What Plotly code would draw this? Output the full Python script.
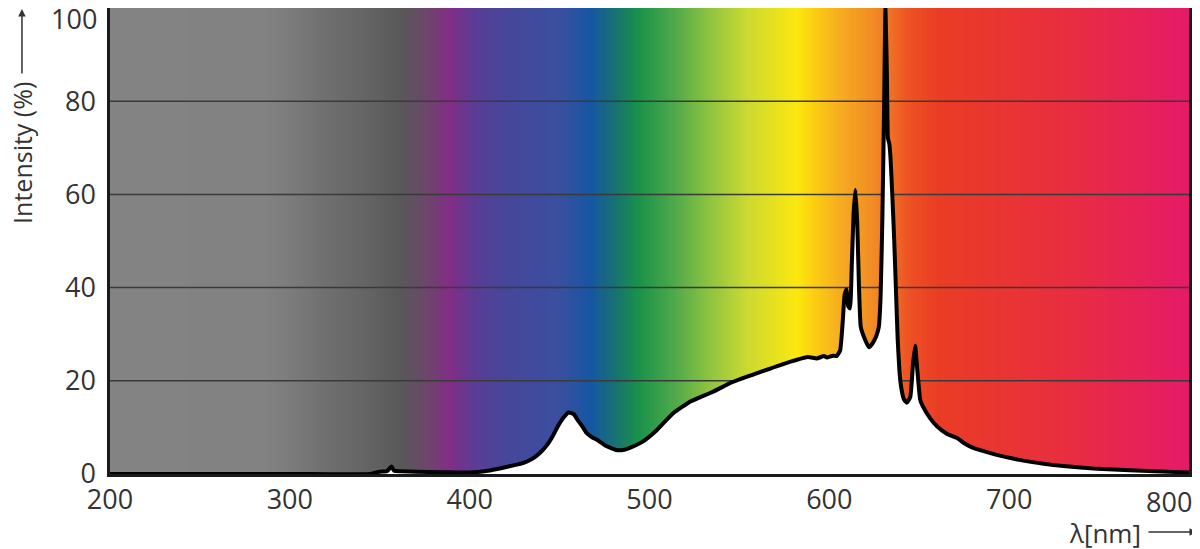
import plotly.graph_objects as go

# spectrum (nm) and relative intensity (%)
wavelength = [200, 300, 345, 350, 354, 356.5, 358, 362, 370, 385, 400, 410, 418,
              425, 430, 435, 439, 443, 446, 449, 452, 455, 458, 460, 463, 465,
              468, 471, 476, 482, 486, 489, 496, 504, 513, 523, 535, 546, 561,
              576, 588, 593, 597, 599, 602, 604, 606, 607.5, 608.5, 609.5, 610.5,
              611.5, 612.5, 613.5, 614.5, 615.5, 616.5, 617.5, 620, 622, 624, 626,
              627.5, 628.5, 629.5, 630.5, 631.2, 632, 632.6, 633.3, 634, 635, 636,
              637, 638, 639, 640, 641.5, 643, 645, 646.5, 647.7, 649, 650.5, 652,
              656, 660, 665.5, 671, 675, 680, 693, 712, 730, 749, 767, 795, 800]
intensity = [0, 0, 0, 0.5, 0.6, 1.6, 0.7, 0.6, 0.5, 0.4, 0.3, 0.7, 1.3,
             1.9, 2.4, 3.3, 4.5, 6.2, 8, 10.2, 12, 13.2, 12.8, 11.6, 10, 8.8,
             7.9, 7.3, 6, 5.1, 5.2, 5.6, 6.9, 9.4, 13, 15.6, 17.6, 19.7, 21.8,
             23.8, 25.1, 24.8, 25.3, 25, 25.4, 25.3, 26.5, 33, 38.5, 39.6, 36,
             35.5, 45, 56, 61, 54, 40, 31.5, 28.7, 27.2, 28, 29.5, 31.5, 38, 55,
             80, 100, 86, 72, 71, 68, 60, 51, 40, 29, 22, 18.5, 16, 15.3, 16.5,
             23.5, 27.5, 22, 16, 14.5, 12, 10.2, 8.6, 7.7, 6.6, 5.6, 4.1, 2.6,
             1.7, 1.1, 0.8, 0.4, 0.3]

# background colour stops along the wavelength axis
stop_nm = [200, 285, 300, 320, 345, 362, 375, 389, 402, 420, 450, 467, 481,
           494, 514, 534, 554, 582, 590, 606, 625, 645, 661, 733, 800]
stop_color = ["#838383", "#828282", "#7b7c7b", "#6f6f6f", "#626362", "#585858",
              "#6a4868", "#822d86", "#5c3b95", "#47469a", "#3a4f9f", "#1656a3",
              "#187271", "#1a924a", "#4fa94a", "#90c440", "#cbd932", "#fce80f",
              "#fbd20f", "#f6ac20", "#f18a25", "#ed5023", "#ea3c25", "#e82d40",
              "#e61a68"]

x_ticks = [200, 300, 400, 500, 600, 700, 800]
y_ticks = [0, 20, 40, 60, 80, 100]

x_min, x_max = 200, 800
y_min, y_max = 0, 100

FONT = "Open Sans"
TEXT = "#333333"
SIZE = 27

colorscale = [[(nm - x_min) / (x_max - x_min), c] for nm, c in zip(stop_nm, stop_color)]
bg_x = list(range(x_min, x_max + 1))

fig = go.Figure()

# spectrum colour band behind everything
fig.add_trace(go.Heatmap(
    x=bg_x, y=[y_min, y_max], z=[bg_x, bg_x],
    zmin=x_min, zmax=x_max, colorscale=colorscale,
    showscale=False, hoverinfo="skip",
))

# grid lines sit on the colour band but under the white fill
grid_x, grid_y = [], []
for v in y_ticks[1:-1]:
    grid_x += [x_min, x_max, None]
    grid_y += [v, v, None]
fig.add_trace(go.Scatter(
    x=grid_x, y=grid_y, mode="lines",
    line=dict(color="#3a3a3a", width=1.5), hoverinfo="skip",
))

fig.add_trace(go.Scatter(
    x=wavelength, y=intensity, mode="lines",
    fill="tozeroy", fillcolor="white",
    line=dict(color="black", width=4, shape="spline", smoothing=0.4),
))

# page body adds an 8px offset, so the figure is sized to what stays visible
fig.update_layout(
    width=1192, height=541,
    margin=dict(l=102, r=11, t=0, b=75),
    paper_bgcolor="white", plot_bgcolor="white",
    showlegend=False,
    font=dict(family=FONT, size=SIZE, color=TEXT),
)
fig.update_xaxes(
    range=[x_min, x_max], tickvals=x_ticks[:-1],
    showgrid=False, zeroline=False, automargin=False,
    showline=True, linecolor="#1a1a1a", linewidth=2.5, mirror=True,
    ticks="", ticklabelstandoff=0,
)
fig.update_yaxes(
    range=[y_min, y_max], tickvals=y_ticks[:-1],
    showgrid=False, zeroline=False, automargin=False,
    showline=True, linecolor="#1a1a1a", linewidth=2.5, mirror=True,
    ticks="", ticklabelstandoff=6,
)

# edge tick labels are pulled inside the canvas
fig.add_annotation(x=x_ticks[-1], y=0, xref="x", yref="paper",
                   text=str(x_ticks[-1]), showarrow=False, borderpad=0,
                   xanchor="right", yanchor="middle", xshift=4, yshift=-27,
                   font=dict(family=FONT, size=SIZE, color=TEXT))
fig.add_annotation(x=0, y=y_ticks[-1], xref="paper", yref="y",
                   text=str(y_ticks[-1]), showarrow=False, borderpad=0,
                   xanchor="right", yanchor="middle", xshift=-12, yshift=-10,
                   font=dict(family=FONT, size=SIZE, color=TEXT))

# axis titles with arrows
fig.add_annotation(x=0.888, y=-0.127, xref="paper", yref="paper",
                   text="λ[nm]", showarrow=False, borderpad=0,
                   xanchor="left", yanchor="middle",
                   font=dict(family=FONT, size=SIZE - 1, color=TEXT))
fig.add_annotation(x=1.0074, y=-0.1245, xref="paper", yref="paper",
                   ax=-50, ay=0, text="", showarrow=True,
                   arrowhead=2, arrowsize=1, arrowwidth=1.5, arrowcolor=TEXT)
fig.add_annotation(x=-0.0816, y=0.689, xref="paper", yref="paper",
                   text="Intensity (%)", showarrow=False, textangle=-90, borderpad=0,
                   xanchor="center", yanchor="middle",
                   font=dict(family=FONT, size=SIZE - 2, color=TEXT))
fig.add_annotation(x=-0.0816, y=1.0, xref="paper", yref="paper",
                   ax=0, ay=67, text="", showarrow=True,
                   arrowhead=2, arrowsize=1, arrowwidth=1.5, arrowcolor=TEXT)

fig.write_html("out.html")
